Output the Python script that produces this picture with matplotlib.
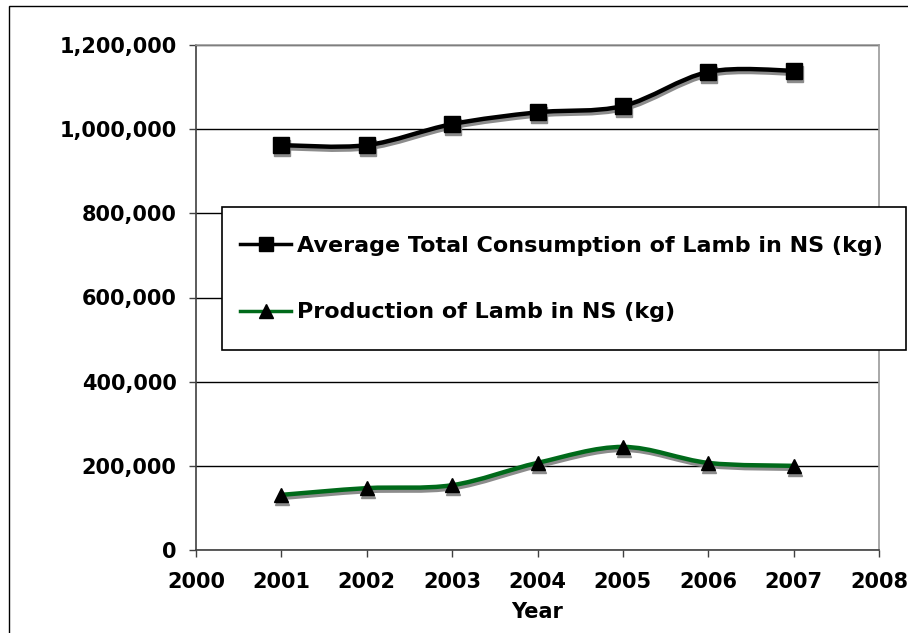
import numpy as np
import matplotlib
matplotlib.use("Agg")
import matplotlib.pyplot as plt
from matplotlib.path import Path
from matplotlib.patches import PathPatch, Rectangle
from matplotlib.lines import Line2D
from matplotlib.ticker import FuncFormatter
import matplotlib.transforms as mtransforms

# Data
years = [2001, 2002, 2003, 2004, 2005, 2006, 2007]
consumption = [962000, 962000, 1012000, 1040000, 1055000, 1136000, 1139000]
production = [131000, 147000, 154000, 207000, 245000, 207000, 200000]

series_labels = ["Average Total Consumption of Lamb in NS (kg)",
                 "Production of Lamb in NS (kg)"]
x_ticks = list(range(2000, 2009))
y_ticks = list(range(0, 1200001, 200000))

plt.rcParams["font.family"] = ["DejaVu Sans"]
plt.rcParams["font.weight"] = "bold"

W, H, DPI = 908, 633, 100
fig = plt.figure(figsize=(W / DPI, H / DPI), dpi=DPI)
fig.patch.set_facecolor("white")

# outer chart frame (extends past the canvas on right and bottom)
fig.add_artist(Rectangle((9 / W, -0.2), 1.5, 1.2 - 6 / H,
                         transform=fig.transFigure, fill=False,
                         ec="#000000", lw=1.0))

ax = fig.add_axes([196 / W, 83 / H, 683 / W, 505 / H])
ax.set_xlim(2000, 2008)
ax.set_ylim(0, 1200000)


def smooth_path(xs, ys):
    """Excel-style smoothed polyline through the given points."""
    pts = np.column_stack([np.asarray(xs, float), np.asarray(ys, float)])
    n = len(pts)
    verts = [pts[0]]
    codes = [Path.MOVETO]
    for i in range(n - 1):
        p0 = pts[i - 1] if i > 0 else pts[i]
        p1 = pts[i]
        p2 = pts[i + 1]
        p3 = pts[i + 2] if i + 2 < n else pts[i + 1]
        c1 = p1 + (p2 - p0) / 6.0
        c2 = p2 - (p3 - p1) / 6.0
        verts += [c1, c2, p2]
        codes += [Path.CURVE4] * 3
    return Path(verts, codes)


shadow_tr = mtransforms.offset_copy(ax.transData, fig=fig, x=1, y=-3,
                                    units="dots")
shadow_col = "#8c8c8c"

specs = [
    (consumption, "#000000", "s", 11.5),
    (production, "#006a1a", "^", 10.5),
]

for vals, col, mk, ms in specs:
    path = smooth_path(years, vals)
    ax.add_patch(PathPatch(path, fill=False, ec=shadow_col, lw=3.2,
                           capstyle="round", joinstyle="round",
                           transform=shadow_tr, zorder=3))
    ax.plot(years, vals, linestyle="none", marker=mk, ms=ms,
            mfc=shadow_col, mec=shadow_col, transform=shadow_tr, zorder=3)
    ax.add_patch(PathPatch(path, fill=False, ec=col, lw=3.2,
                           capstyle="round", joinstyle="round", zorder=4))
    ax.plot(years, vals, linestyle="none", marker=mk, ms=ms,
            mfc="black", mec="black", zorder=5)

# axes styling
ax.set_xticks(x_ticks)
ax.set_yticks(y_ticks)
ax.yaxis.set_major_formatter(FuncFormatter(lambda v, p: f"{int(v):,}"))
ax.tick_params(axis="both", direction="out", length=5, width=1,
               color="#404040", labelsize=15, pad=9)
ax.tick_params(axis="x", pad=11)
for lab in ax.get_xticklabels() + ax.get_yticklabels():
    lab.set_fontweight("bold")

ax.set_axisbelow(True)
ax.grid(axis="y", color="black", lw=1.0)
ax.grid(axis="x", visible=False)

ax.spines["left"].set_color("#404040")
ax.spines["bottom"].set_color("#404040")
ax.spines["top"].set_color("#999999")
ax.spines["right"].set_color("#999999")
for s in ax.spines.values():
    s.set_linewidth(1.2)

ax.set_xlabel("Year", fontsize=15, fontweight="bold", labelpad=7)

# legend box drawn as its own frame, entries placed inside it
fig.add_artist(Rectangle((222 / W, 1 - 350 / H), (906 - 222) / W,
                         (350 - 207) / H, transform=fig.transFigure,
                         fc="white", ec="black", lw=1.2, zorder=4))

handles = [
    Line2D([], [], color="black", lw=2.5, marker="s", ms=10,
           mfc="black", mec="black"),
    Line2D([], [], color="#006a1a", lw=2.5, marker="^", ms=10,
           mfc="black", mec="black"),
]
leg = fig.legend(handles, series_labels, loc="center left",
                 bbox_to_anchor=(240 / W, 1 - 279 / H),
                 bbox_transform=fig.transFigure,
                 prop={"size": 16, "weight": "bold"},
                 frameon=False, borderpad=0.0, labelspacing=2.1,
                 handlelength=2.3, handletextpad=0.25, borderaxespad=0.0)
leg.set_zorder(5)

fig.savefig("out.png", dpi=DPI, facecolor="white")
